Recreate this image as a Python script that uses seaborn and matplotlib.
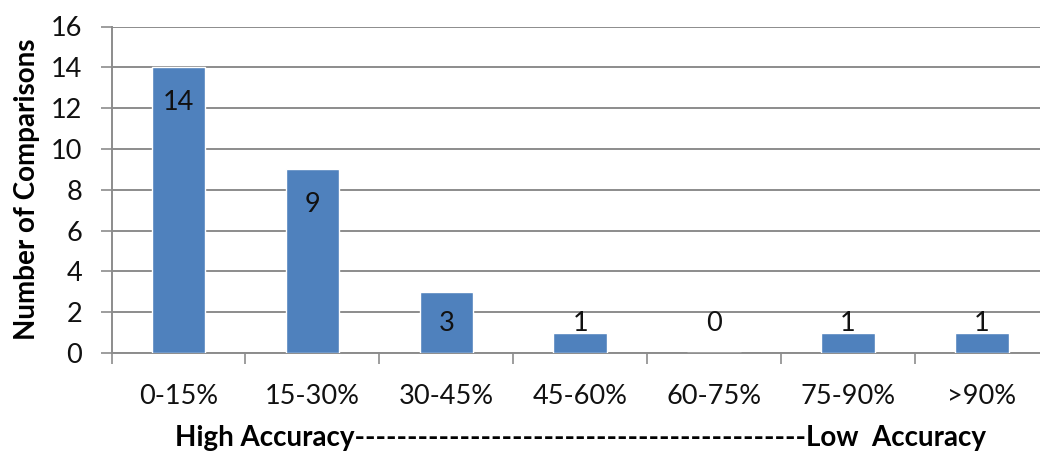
import matplotlib
matplotlib.use("Agg")
import matplotlib.pyplot as plt
import seaborn as sns
import pandas as pd
import numpy as np

# Error bands and how many comparisons fall into each
categories = ["0-15%", "15-30%", "30-45%", "45-60%", "60-75%", "75-90%", ">90%"]
counts = [14, 9, 3, 1, 0, 1, 1]
y_ticks = [0, 2, 4, 6, 8, 10, 12, 14, 16]
y_title = "Number of Comparisons"
x_title = "High Accuracy" + "-" * 43 + "Low  Accuracy"

df = pd.DataFrame({"band": categories, "count": counts})

sns.set_theme(style="white")
plt.rcParams["font.family"] = ["Lato", "DejaVu Sans"]

grey = "#8c8c8c"
bar_blue = "#4f81bd"
ink = "#111111"

fig = plt.figure(figsize=(10.4, 4.54), dpi=100)
ax = fig.add_axes([111.5 / 1040, 1 - 353 / 454, 937.5 / 1040, (353 - 26.5) / 454])

sns.barplot(data=df, x="band", y="count", color=bar_blue, width=0.4,
            saturation=1, ax=ax, zorder=3)

ax.set_ylim(0, 16)
ax.set_xlim(-0.5, len(categories) - 0.5)
ax.set_yticks(y_ticks)
ax.yaxis.grid(True, color=grey, linewidth=1.4, zorder=0)
ax.set_axisbelow(True)

for side in ["top", "right"]:
    ax.spines[side].set_visible(False)
for side in ["left", "bottom"]:
    ax.spines[side].set_color(grey)
    ax.spines[side].set_linewidth(1.4)

# category boundary ticks on the x axis, none at the centres
ax.set_xticks(np.arange(-0.5, len(categories), 1.0), minor=True)
ax.tick_params(axis="x", which="minor", length=8, width=1.2, color=grey,
               direction="out", bottom=True)
ax.tick_params(axis="x", which="major", length=0, pad=22, labelsize=19.5,
               labelcolor=ink)
ax.tick_params(axis="y", length=8, width=1.2, color=grey, direction="out",
               left=True, pad=13, labelsize=19.5, labelcolor=ink)

# value labels near the top of each bar, kept clear of the baseline
for i, v in enumerate(counts):
    ax.text(i, max(v - 1.7, 1.45), str(v), ha="center", va="center",
            fontsize=19.5, color=ink, zorder=4)

ax.set_ylabel(y_title, fontsize=20, fontweight="bold", labelpad=8,
              color="#000000")
ax.set_xlabel(x_title, fontsize=20, fontweight="bold", labelpad=12,
              color="#000000")

fig.savefig("out.png", dpi=100)
